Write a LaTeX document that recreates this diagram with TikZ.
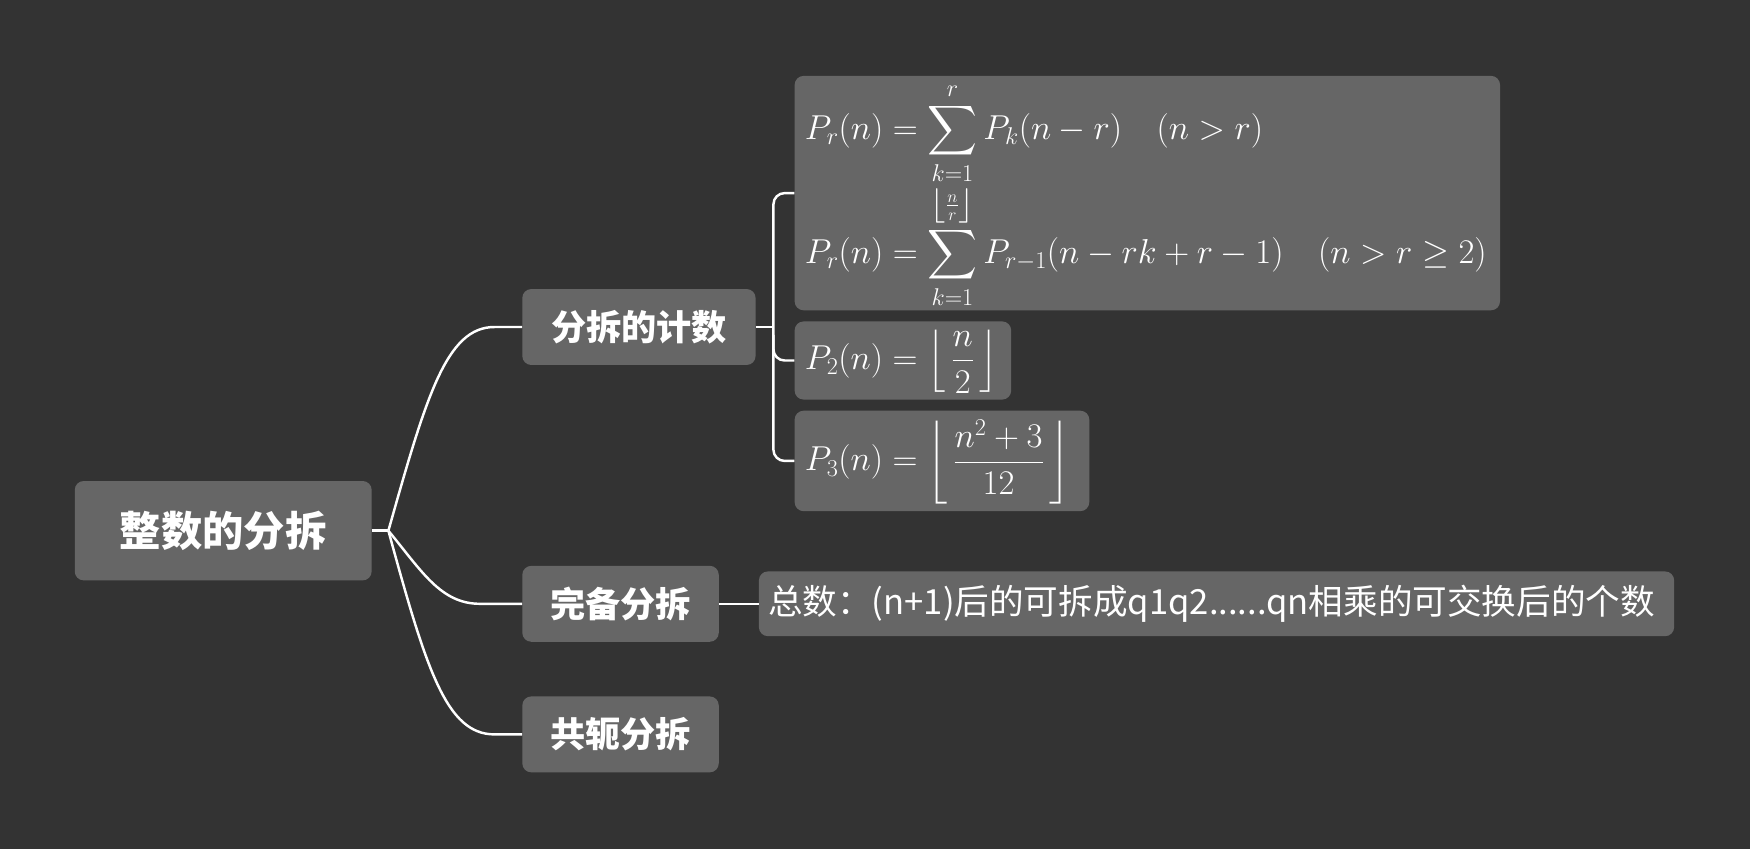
\RequirePackage{fix-cm}
\documentclass[tikz,border=0pt]{standalone}
\usepackage{fontspec}
\usepackage{amsmath,amssymb}
\newfontfamily\cjk{Noto Sans CJK SC}
\newfontfamily\cjkb{Noto Sans CJK SC Black}
\definecolor{bg}{HTML}{333333}
\definecolor{boxc}{HTML}{666666}
\begin{document}
\begin{tikzpicture}[x=1pt,y=-1pt,
  box/.style={fill=boxc, rounded corners=8pt, inner sep=0pt, text=white},
  conn/.style={draw=white, line width=2.2pt},
  mth/.style={anchor=base west, inner sep=0pt, text=white, font=\fontsize{31}{37}\selectfont},
  ]
\fill[bg] (0,0) rectangle (1568,761);
\useasboundingbox (0,0) rectangle (1568,761);

\node[box, minimum width=266pt, minimum height=89pt, font=\cjkb\fontsize{37}{44}\selectfont] (root) at (200,475.5) {整数的分拆};
\node[box, minimum width=209pt, minimum height=68pt, font=\cjkb\fontsize{31.5}{38}\selectfont] (b1) at (572.5,293) {分拆的计数};
\node[box, minimum width=176pt, minimum height=68pt, font=\cjkb\fontsize{31.5}{38}\selectfont] (b2) at (556,541) {完备分拆};
\node[box, minimum width=176pt, minimum height=68pt, font=\cjkb\fontsize{31.5}{38}\selectfont] (b3) at (556,658) {共轭分拆};

\node[box, minimum width=632pt, minimum height=210pt] (f1) at (1028,173) {};
\node[box, minimum width=194pt, minimum height=70pt] (f2) at (809,323) {};
\node[box, minimum width=264pt, minimum height=90pt] (f3) at (844,413) {};
\node[box, minimum width=820pt, minimum height=58pt] (s) at (1090,541) {};

\node[mth] (f1a) at (721,125) {$\displaystyle P_r(n)=\sum_{k=1}^{r}P_k(n-r)\quad(n>r)$};
\node[mth] (f1b) at (721,236) {$\displaystyle P_r(n)=\sum_{k=1}^{\left\lfloor\frac{n}{r}\right\rfloor}P_{r-1}(n-rk+r-1)\quad(n>r\geq2)$};
\node[mth] (f2t) at (721,331) {$\displaystyle P_2(n)=\left\lfloor\,\frac{n}{2}\,\right\rfloor$};
\node[mth] (f3t) at (721,422) {$\displaystyle P_3(n)=\left\lfloor\,\frac{n^2+3}{12}\,\right\rfloor$};
\node[anchor=west, inner sep=0pt, text=white, font=\cjk\fontsize{31}{36}\selectfont] (st) at (688,541) {总数：(n+1)后的可拆成q1q2......qn相乘的可交换后的个数};

\coordinate (j) at (348,475.5);
\draw[conn] (root.east) -- (j);
\draw[conn] (j) .. controls (382,355) and (400,293) .. (443,293) -- (b1.west);
\draw[conn] (j) .. controls (378,512) and (395,541) .. (430,541) -- (b2.west);
\draw[conn] (j) .. controls (382,600) and (400,658) .. (443,658) -- (b3.west);

\coordinate (bj) at (693,293);
\coordinate (bk) at (693,413);
\coordinate (bk2) at (693,300);
\draw[conn] (b1.east) -- (bj);
\draw[conn, rounded corners=10pt] (f1.west) -| (bk) -- (f3.west);
\draw[conn, rounded corners=10pt] (bk2) |- (f2.west);
\draw[conn] (b2.east) -- (s.west);
\end{tikzpicture}
\end{document}
